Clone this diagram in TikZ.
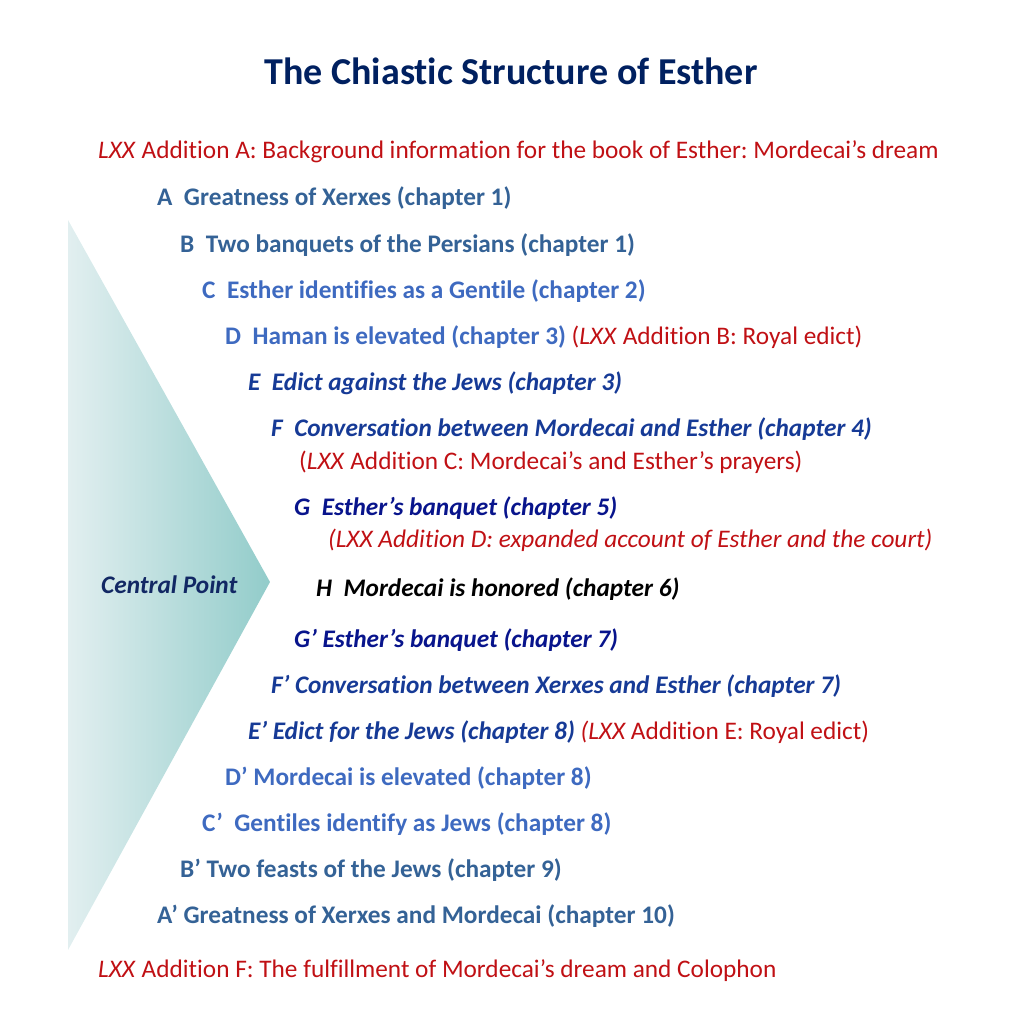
\documentclass[tikz,border=0pt]{standalone}
\usepackage{fontspec}
\setmainfont{Carlito}[Ligatures={NoCommon}]
\frenchspacing
\definecolor{titleblue}{RGB}{0,32,96}
\definecolor{abblue}{RGB}{52,98,150}
\definecolor{cdblue}{RGB}{62,106,192}
\definecolor{efblue}{RGB}{22,58,150}
\definecolor{gblue}{RGB}{8,20,140}
\definecolor{addred}{RGB}{192,16,20}
\definecolor{cpblue}{RGB}{18,40,100}
\definecolor{triL}{RGB}{226,239,240}
\definecolor{triR}{RGB}{146,204,202}
\newcommand{\bodysize}{\fontsize{25.3}{30}\selectfont}
\tikzset{
  line/.style={anchor=west, inner sep=0pt, font=\bodysize},
  ab/.style={line, text=abblue, font=\bodysize\bfseries},
  cd/.style={line, text=cdblue, font=\bodysize\bfseries},
  ef/.style={line, text=efblue, font=\bodysize\bfseries\itshape},
  gg/.style={line, text=gblue, font=\bodysize\bfseries\itshape},
  hh/.style={line, text=black, font=\bodysize\bfseries\itshape},
  red/.style={line, text=addred},
}
\newcommand{\rd}[1]{\textcolor{addred}{\normalfont\upshape\mdseries #1}}
\newcommand{\lxx}{\textit{LXX}}
\begin{document}
\begin{tikzpicture}[x=1pt,y=-1pt]
\useasboundingbox (0,0) rectangle (1024,1024);
\shade[left color=triL, right color=triR] (68,220) -- (270,582) -- (68,950) -- cycle;
\node[anchor=center, text=titleblue, font=\fontsize{38}{44}\selectfont\bfseries] (title) at (511,76) {\strut The Chiastic Structure of Esther};
\node[red] (lxxA) at (98,153) {\strut\lxx{} Addition A: Background information for the book of Esther: Mordecai’s dream};
\node[ab] (A) at (157,200) {\strut A\ \ Greatness of Xerxes (chapter 1)};
\node[ab] (B) at (180,246) {\strut B\ \ Two banquets of the Persians (chapter 1)};
\node[cd] (C) at (202,292) {\strut C\ \ Esther identifies as a Gentile (chapter 2)};
\node[cd] (D) at (225,338) {\strut D\ \ Haman is elevated (chapter 3) \rd{(\lxx{} Addition B: Royal edict)}};
\node[ef] (E) at (248,384) {\strut E\ \ Edict against the Jews (chapter 3)};
\node[ef] (F) at (271,430) {\strut F\ \ Conversation between Mordecai and Esther (chapter 4)};
\node[red] (lxxC) at (299,463) {\strut(\lxx{} Addition C: Mordecai’s and Esther’s prayers)};
\node[gg] (G) at (294,509) {\strut G\ \ Esther’s banquet (chapter 5)};
\node[red, font=\bodysize\itshape] (lxxD) at (328,541) {\strut(LXX Addition D: expanded account of Esther and the court)};
\node[line, text=cpblue, font=\bodysize\bfseries\itshape] (cp) at (101,587) {\strut Central Point};
\node[hh] (H) at (316,590) {\strut H\ \ Mordecai is honored (chapter 6)};
\node[gg] (G2) at (294,641) {\strut G’ Esther’s banquet (chapter 7)};
\node[ef] (F2) at (271,687) {\strut F’ Conversation between Xerxes and Esther (chapter 7)};
\node[ef] (E2) at (248,733) {\strut E’ Edict for the Jews (chapter 8) \textcolor{addred}{\mdseries(LXX} \rd{Addition E: Royal edict)}};
\node[cd] (D2) at (225,779) {\strut D’ Mordecai is elevated (chapter 8)};
\node[cd] (C2) at (202,825) {\strut C’\ \ Gentiles identify as Jews (chapter 8)};
\node[ab] (B2) at (180,871) {\strut B’ Two feasts of the Jews (chapter 9)};
\node[ab] (A2) at (157,917) {\strut A’ Greatness of Xerxes and Mordecai (chapter 10)};
\node[red] (lxxF) at (98,971) {\strut\lxx{} Addition F: The fulfillment of Mordecai’s dream and Colophon};
\end{tikzpicture}
\end{document}
